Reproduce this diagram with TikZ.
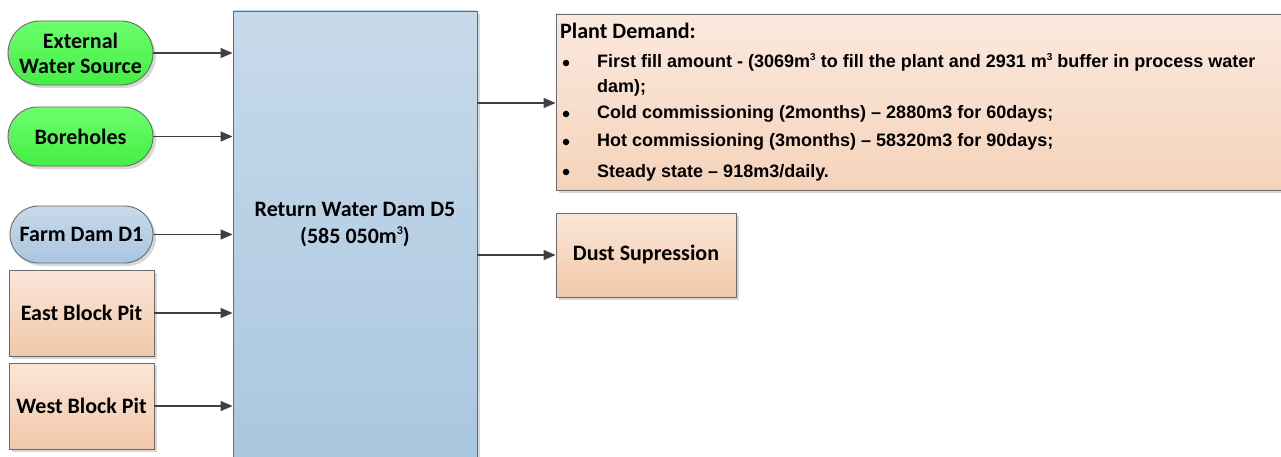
\documentclass[tikz,border=0pt]{standalone}
\usepackage{fontspec}
\setmainfont{Carlito}
\newfontfamily\arialn{Liberation Sans}
\usetikzlibrary{arrows.meta,shadows}
\newcommand\supthree[1]{\raisebox{0.42em}{\fontsize{#1}{#1}\selectfont 3}}
\definecolor{edge}{HTML}{6A6A6A}
\definecolor{arr}{HTML}{404040}
\definecolor{gtop}{HTML}{6CFF6C}
\definecolor{gbot}{HTML}{44EE44}
\definecolor{btop}{HTML}{C7DAEA}
\definecolor{bbot}{HTML}{A9C6DF}
\definecolor{otop}{HTML}{FAE6D9}
\definecolor{obot}{HTML}{F2C8A8}
\definecolor{ptop}{HTML}{FBE9DE}
\definecolor{pbot}{HTML}{F5D3BA}
\definecolor{shad}{HTML}{D8D8D8}
\tikzset{
  lbl/.style={font=\fontsize{22}{25}\selectfont\bfseries, align=center, text=black},
  box/.style={draw=edge, line width=0.9pt, lbl, inner sep=0pt,
     drop shadow={fill=shad, opacity=1, shadow xshift=3pt, shadow yshift=-3pt}},
  stadium/.style={box, rounded corners=#1},
  greenfill/.style={top color=gtop, bottom color=gbot},
  bluefill/.style={top color=btop, bottom color=bbot},
  orangefill/.style={top color=otop, bottom color=obot},
  flow/.style={draw=arr, line width=1.4pt, -{Triangle[length=12pt,width=10pt]}},
  bul/.style={circle, fill=black, inner sep=0pt, minimum size=6.5pt},
  btxt/.style={anchor=base west, inner sep=0pt, font=\arialn\fontsize{18}{22}\selectfont\bfseries},
}
\begin{document}
\begin{tikzpicture}[x=1pt,y=1pt]
\useasboundingbox (0,0) rectangle (1281,456);
% sources
\node[stadium=32pt, greenfill, minimum width=145pt, minimum height=64pt] (ext) at (80.5,403) {External\\Water Source};
\node[stadium=29.5pt, greenfill, minimum width=145pt, minimum height=59pt] (bore) at (80.5,319.5) {Boreholes};
\node[stadium=28.5pt, bluefill, minimum width=143pt, minimum height=57pt] (farm) at (81.5,221.5) {Farm Dam D1};
\node[box, orangefill, minimum width=145pt, minimum height=86pt] (east) at (81.5,143) {East Block Pit};
\node[box, orangefill, minimum width=145pt, minimum height=86pt] (west) at (81.5,50) {West Block Pit};
% dam
\node[box, bluefill, minimum width=244pt, minimum height=465pt] (dam) at (355,212.5) {};
\node[lbl, font=\fontsize{22}{27}\selectfont\bfseries] (damlbl) at (355,231) {Return Water Dam D5\\(585 050m\supthree{12})};
% outputs
\node[box, top color=ptop, bottom color=pbot, minimum width=739pt, minimum height=176pt] (plant) at (925.5,354) {};
\node[box, orangefill, minimum width=180pt, minimum height=84pt] (dust) at (646,201) {Dust Supression};
% plant text
\node[anchor=base west, inner sep=0pt, font=\fontsize{22}{25}\selectfont\bfseries] (ptitle) at (560,417) {Plant Demand:};
\node[bul] (b1) at (566,393) {};
\node[btxt] (t1) at (597,388) {First fill amount - (3069m\supthree{10} to fill the plant and 2931 m\supthree{10} buffer in process water};
\node[btxt] (t1b) at (597,363) {dam);};
\node[bul] (b2) at (566,342) {};
\node[btxt] (t2) at (597,337) {Cold commissioning (2months) – 2880m3 for 60days;};
\node[bul] (b3) at (566,314) {};
\node[btxt] (t3) at (597,309) {Hot commissioning (3months) – 58320m3 for 90days;};
\node[bul] (b4) at (566,284) {};
\node[btxt] (t4) at (597,279) {Steady state – 918m3/daily.};
% connectors
\draw[flow] (ext.east) -- (ext.east -| dam.west);
\draw[flow] (bore.east) -- (bore.east -| dam.west);
\draw[flow] (farm.east) -- (farm.east -| dam.west);
\draw[flow] (east.east) -- (east.east -| dam.west);
\draw[flow] (west.east) -- (west.east -| dam.west);
\coordinate (dp) at (dam.east |- 0,353);
\draw[flow] (dp) -- (dp -| plant.west);
\draw[flow] (dam.east |- dust.west) -- (dust.west);
\end{tikzpicture}
\end{document}
